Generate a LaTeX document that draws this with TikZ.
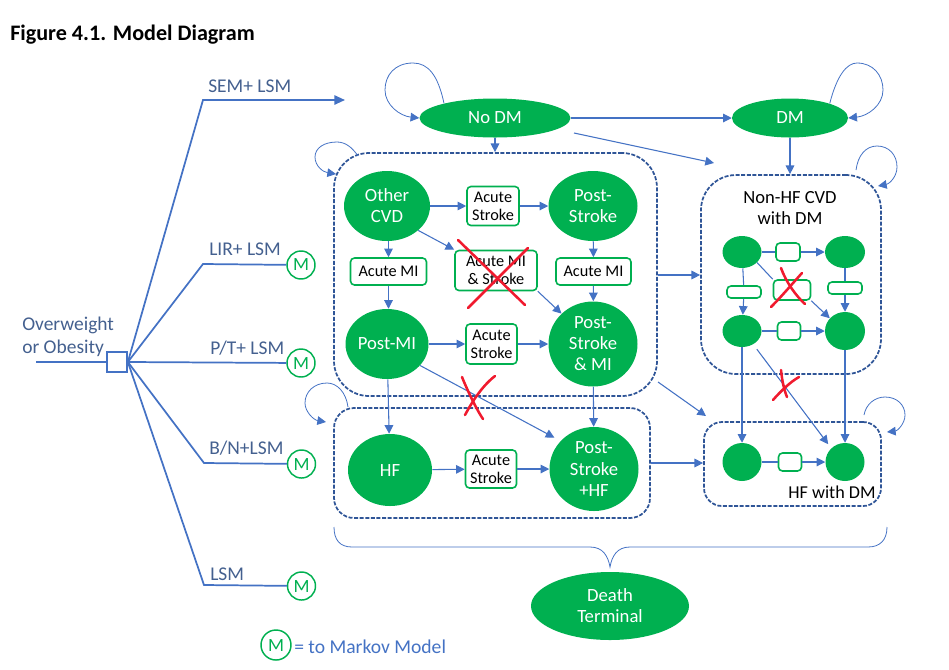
\documentclass[tikz,border=0pt]{standalone}
\usepackage{fontspec}
\setmainfont{Carlito}
\usetikzlibrary{
	arrows.meta,
	shapes.geometric,
}
\definecolor{flowblue}{HTML}{4472C4}
\definecolor{groupblue}{HTML}{2F5597}
\definecolor{treetext}{HTML}{44608F}
\definecolor{stategreen}{HTML}{00B050}
\definecolor{crossred}{HTML}{F01A2E}
\tikzset{
	state/.style n args={3}{ellipse,fill=stategreen,text=white,inner sep=0pt,align=center,font=\fontsize{14}{15.8}\selectfont,minimum width=#1*.75pt,minimum height=#2*.75pt,#3},
	event/.style n args={2}{rectangle,rounded corners=3pt,draw=stategreen,line width=1.2pt,fill=white,inner sep=0pt,align=center,text=black,font=\fontsize{12.2}{13.4}\selectfont,minimum width=#1*.75pt,minimum height=#2*.75pt},
	groupbox/.style n args={3}{rectangle,draw=groupblue,line width=1.3pt,dash pattern=on 3pt off 1.2pt,rounded corners=#3*.75pt,inner sep=0pt,minimum width=#1*.75pt,minimum height=#2*.75pt},
	markov/.style={circle,draw=stategreen,line width=1.1pt,fill=white,text=stategreen,inner sep=0pt,minimum size=#1*.75pt,font=\fontsize{14}{15}\selectfont},
	markov/.default=28,
	treelabel/.style={anchor=west,inner sep=0pt,text=treetext,font=\fontsize{14.6}{17}\selectfont},
	treeline/.style={draw=flowblue,line width=1.3pt},
	flow/.style={color=flowblue,line width=.8pt,-{Triangle[length=6.5pt,width=6.5pt]}},
	plain/.style={color=flowblue,line width=.8pt},
	redcross/.style={draw=crossred,line width=1.9pt,line cap=round},
}
\begin{document}
\begin{tikzpicture}[x=.75pt,y=-.75pt]
\useasboundingbox (0,0) rectangle (949,669);
\node[anchor=west,inner sep=0pt,font=\bfseries\fontsize{16.6}{19}\selectfont] (figtitle) at (10,34.5) {Figure 4.1. Model Diagram};

\node[groupbox={323}{243}{35}] (cvdgroup) at (495.5,274.5) {};
\node[groupbox={316}{110}{20}] (hfgroup) at (492,463) {};
\node[groupbox={180}{199}{35}] (nonhfgroup) at (791,274.5) {};
\node[groupbox={177}{84}{18}] (hfdmgroup) at (792.5,464) {};

\node[state={151}{39}{}] (nodm) at (495,118) {No DM};
\node[state={116}{39}{}] (dm) at (790,118) {DM};
\node[state={86}{70}{}] (othercvd) at (387,206) {Other\\CVD};
\node[state={89}{70}{}] (poststroke) at (593,206) {Post-\\Stroke};
\node[state={83}{70}{}] (postmi) at (387,344) {Post-MI};
\node[state={89}{85}{}] (poststrokemi) at (593,344) {Post-\\Stroke\\\& MI};
\node[state={84}{72}{}] (hf) at (390,470) {HF};
\node[state={89}{84}{}] (poststrokehf) at (594,469) {Post-\\Stroke\\+HF};
\node[state={158}{68}{}] (death) at (610,606) {Death\\Terminal};

\node[event={52}{39}] (strokea) at (493,206) {Acute\\Stroke};
\node[event={51}{40}] (strokeb) at (491.5,344) {Acute\\Stroke};
\node[event={51}{38}] (strokec) at (491,469) {Acute\\Stroke};
\node[event={76}{27}] (mia) at (388.5,271.5) {Acute MI};
\node[event={75}{27}] (mib) at (593.5,271.5) {Acute MI};
\node[event={82}{40}] (mistroke) at (496,270.5) {Acute MI\\\& Stroke};

\node[state={39}{32}{}] (dma) at (742,252) {};
\node[state={40}{32}{}] (dmb) at (845,252) {};
\node[state={39}{32}{}] (dmc) at (742,331) {};
\node[state={40}{38}{}] (dmd) at (845,331) {};
\node[state={39}{38}{}] (dme) at (742,462) {};
\node[state={39}{38}{}] (dmf) at (845,462) {};
\node[event={24}{18}] (boxa) at (788,252) {};
\node[event={23}{18}] (boxb) at (789,331) {};
\node[event={23}{18}] (boxc) at (790,462) {};
\node[event={34}{12}] (boxd) at (744,292) {};
\node[event={34}{12}] (boxe) at (845,288) {};
\node[event={37}{20}] (boxf) at (792,290) {};
\node[inner sep=0pt,align=center,font=\fontsize{13.9}{15.8}\selectfont] (nonhflabel) at (790,208) {Non-HF CVD\\with DM};
\node[inner sep=0pt,font=\fontsize{13.6}{15.5}\selectfont] (hfdmlabel) at (832,492) {HF with DM};

\node[rectangle,draw=flowblue,line width=1.3pt,fill=white,inner sep=0pt,minimum size=15pt] (decision) at (117,362) {};
\coordinate (rootstart) at (36,362);
\coordinate (semjoint) at (203,100);
\coordinate (semend) at (345,100);
\coordinate (lirjoint) at (203,264);
\coordinate (bnjoint) at (204,463);
\coordinate (lsmjoint) at (204,585);
\node[markov] (mlir) at (301,265) {M};
\node[markov] (mpt) at (301,363) {M};
\node[markov] (mbn) at (301.5,464) {M};
\node[markov] (mlsm) at (301.5,586) {M};
\node[markov=30] (mkey) at (276,645) {M};
\node[anchor=west,inner sep=0pt,text=flowblue,font=\fontsize{14.7}{17}\selectfont] (keytext) at (294,646.5) {= to Markov Model};

\node[treelabel,align=left] (rootlabel) at (22,337) {Overweight\\or Obesity};
\node[treelabel] (semlabel) at (208,86.5) {SEM+ LSM};
\node[treelabel] (lirlabel) at (209,249.5) {LIR+ LSM};
\node[treelabel] (ptlabel) at (210,348.5) {P/T+ LSM};
\node[treelabel] (bnlabel) at (209,448.5) {B/N+LSM};
\node[treelabel] (lsmlabel) at (210,574.5) {LSM};

\draw[treeline] (rootstart) -- (decision.west);
\draw[treeline,-{Triangle[length=8pt,width=7pt]},flowblue] (decision.east) -- (semjoint) -- (semend);
\draw[treeline] (decision.east) -- (lirjoint) -- (mlir);
\draw[treeline] (decision.east) -- (mpt);
\draw[treeline] (decision.east) -- (bnjoint) -- (mbn);
\draw[treeline] (decision.east) -- (lsmjoint) -- (mlsm);

\coordinate (nodmout) at (574,133);
\coordinate (nonhfin) at (714,163);
\coordinate (cvdout) at (658,382);
\coordinate (hfdmin) at (706,416);

\path[flow]
	(nodm) edge (dm)
	(nodmout) edge (nonhfin)
	(nodm.south) edge (nodm.south |- cvdgroup.north)
	(dm.south) edge (dm.south |- nonhfgroup.north)
	(cvdgroup.east |- 0,275) edge (nonhfgroup.west |- 0,275)
	(cvdout) edge (hfdmin)
	(hfgroup.east |- 0,463) edge (hfdmgroup.west |- 0,463)
	(othercvd) edge (strokea)
	(strokea) edge (poststroke)
	(othercvd.-38) edge (mistroke.north west)
	(mistroke.south east) edge (poststrokemi.136)
	(othercvd.south -| mia) edge (mia)
	(mia) edge (mia |- postmi.north)
	(poststroke) edge (mib)
	(mib) edge (poststrokemi)
	(postmi) edge (strokeb)
	(strokeb) edge (poststrokemi)
	(postmi) edge (hf)
	(poststrokemi) edge (poststrokehf)
	(hf) edge (strokec)
	(strokec) edge (poststrokehf)
	(boxa) edge (dmb)
	(boxd) edge (dmc)
	(boxe) edge (dmd)
	(boxf.south east) edge (dmd.140)
	(boxb) edge (dmd)
	(dmc) edge (dme)
	(dmd) edge (dmf)
	(boxc) edge (dmf);
\draw[flow,shorten >=7*.75pt] (postmi.-33) -- (poststrokehf.140);
\draw[flow,shorten >=5*.75pt,shorten <=6*.75pt] (dmc.-50) -- (dmf.135);
\path[plain]
	(dma) edge (boxa)
	(dma) edge (boxd)
	(dmb) edge (boxe)
	(dma.-35) edge (boxf.north west)
	(dmc) edge (boxb)
	(dme) edge (boxc);

\coordinate (cvdloop) at (358,156);
\coordinate (cvdloopin) at (336,174);
\coordinate (hfloop) at (348,407);
\coordinate (hfloopin) at (326,422);
\coordinate (nonhfloop) at (856,170);
\coordinate (nonhfloopin) at (878,186);
\coordinate (hfdmloop) at (864,415);
\coordinate (hfdmloopin) at (887,432);
\draw[flow,line width=.6pt] (nodm.164) .. controls (438,75) and (428,63) .. (413,63) .. controls (395,63) and (385,75) .. (385,90) .. controls (385,105) and (400,116) .. (nodm.west);
\draw[flow,line width=.6pt] (dm.20) .. controls (837,75) and (847,63) .. (857,63) .. controls (873,63) and (883,75) .. (883,90) .. controls (883,105) and (868,116) .. (dm.east);
\draw[flow,line width=.6pt] (cvdloop) .. controls (352,147) and (345,142) .. (337,142) .. controls (324,142) and (315,148) .. (315,157) .. controls (315,166) and (323,172) .. (cvdloopin);
\draw[flow,line width=.6pt] (hfloop) .. controls (346,392) and (337,383) .. (327,383) .. controls (314,383) and (305,392) .. (305,403) .. controls (305,412) and (314,420) .. (hfloopin);
\draw[flow,line width=.6pt] (nonhfloop) .. controls (858,155) and (866,146) .. (877,146) .. controls (889,146) and (897,155) .. (897,167) .. controls (897,177) and (889,184) .. (nonhfloopin);
\draw[flow,line width=.6pt] (hfdmloop) .. controls (866,404) and (875,397) .. (885,397) .. controls (897,397) and (905,405) .. (905,415) .. controls (905,424) and (897,431) .. (hfdmloopin);

\draw[plain,line width=.6pt] (334,527) .. controls (334,540) and (340,547) .. (352,547) -- (590,547) .. controls (603,547) and (608,556) .. (610,567) .. controls (612,556) and (617,547) .. (630,547) -- (868,547) .. controls (880,547) and (887,540) .. (887,527);

\draw[redcross] (458,240) -- (525,305);
\draw[redcross] (528,248) -- (468,308);
\draw[redcross] (462,377) .. controls (468,392) and (478,412) .. (483,419);
\draw[redcross] (495,376) .. controls (482,386) and (472,402) .. (465,415);
\draw[redcross] (781,268) .. controls (786,282) and (796,296) .. (805,304);
\draw[redcross] (802,273) .. controls (792,284) and (782,296) .. (771,307);
\draw[redcross] (781,370) .. controls (782,380) and (784,390) .. (787,397);
\draw[redcross] (799,377) .. controls (790,382) and (780,392) .. (773,400);
\end{tikzpicture}
\end{document}
